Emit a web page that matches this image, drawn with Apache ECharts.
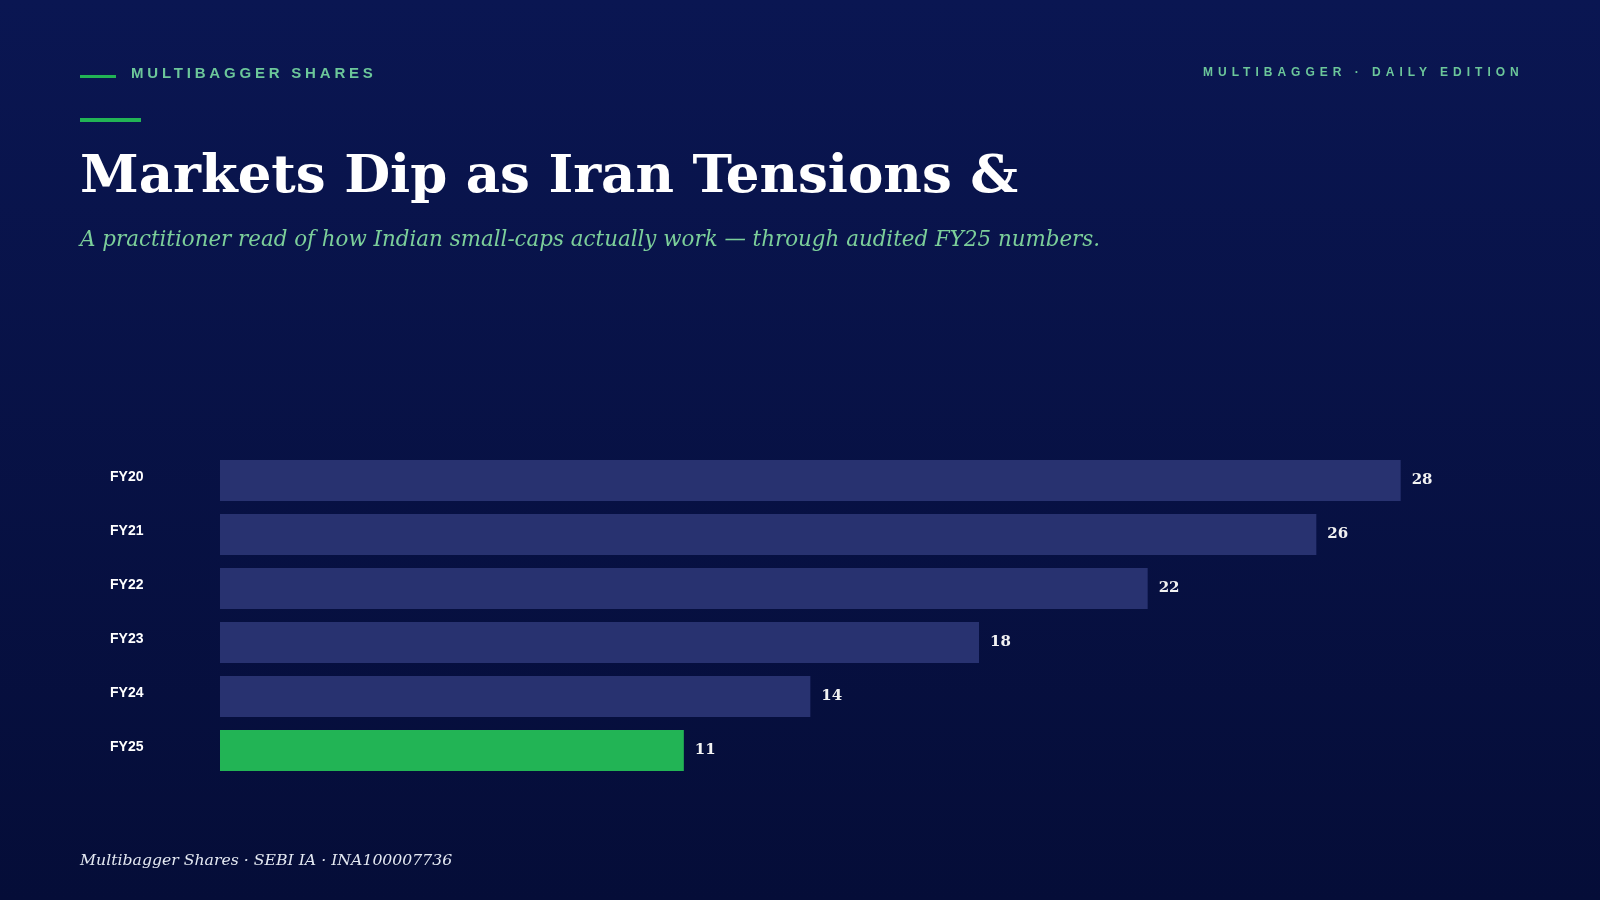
<!DOCTYPE html>
<html>
<head>
<meta charset="utf-8">
<script src="https://cdn.jsdelivr.net/npm/echarts@6/dist/echarts.min.js"></script>
<style>
  html, body { margin: 0; padding: 0; width: 1600px; height: 900px; overflow: hidden; background: #08134a; }
  #chart { position: absolute; left: 0; top: 0; width: 1600px; height: 900px; }
  .kicker { position: absolute; font-family: "Liberation Sans", Arial, sans-serif; font-weight: bold; color: #6cc79a; white-space: nowrap; line-height: 1; }
  #kick1 { left: 131px; top: 65px; font-size: 15px; letter-spacing: 3.8px; }
  #kick2 { left: 1203px; top: 66px; font-size: 12px; letter-spacing: 5px; }
</style>
</head>
<body>
<div id="chart"></div>
<div class="kicker" id="kick1">MULTIBAGGER SHARES</div>
<div class="kicker" id="kick2">MULTIBAGGER · DAILY EDITION</div>
<script>
const categories = ['FY20', 'FY21', 'FY22', 'FY23', 'FY24', 'FY25'];
const values = [28, 26, 22, 18, 14, 11];
const titleText = 'Markets Dip as Iran Tensions &';
const subtitleText = 'A practitioner read of how Indian small-caps actually work — through audited FY25 numbers.';
const footerText = 'Multibagger Shares · SEBI IA · INA100007736';

const chart = echarts.init(document.getElementById('chart'), null, { renderer: 'canvas', width: 1600, height: 900 });
const lastIdx = values.length - 1;

chart.setOption({
  backgroundColor: {
    type: 'linear', x: 0, y: 0, x2: 0, y2: 1,
    colorStops: [{ offset: 0, color: '#0a1652' }, { offset: 1, color: '#050d38' }]
  },
  animation: false,
  graphic: [
    { type: 'rect', shape: { x: 80, y: 75, width: 36, height: 3 }, style: { fill: '#22b455' } },
    { type: 'rect', shape: { x: 80, y: 118, width: 61, height: 4 }, style: { fill: '#22b455' } },
    { type: 'text', x: 80, y: 178, style: { text: titleText, font: 'bold 53px "DejaVu Serif", Georgia, serif', fill: '#ffffff', verticalAlign: 'middle' } },
    { type: 'text', x: 80, y: 240, style: { text: subtitleText, font: 'italic 21.4px "DejaVu Serif", Georgia, serif', fill: '#7ccf9a', verticalAlign: 'middle' } },
    { type: 'text', x: 80, y: 861, style: { text: footerText, font: 'italic 15.7px "DejaVu Serif", Georgia, serif', fill: '#e4e9f2', verticalAlign: 'middle' } }
  ],
  grid: { left: 220, right: 115, top: 453.5, height: 324, containLabel: false },
  xAxis: {
    type: 'value', min: 0, max: 30, show: false, splitLine: { show: false }
  },
  yAxis: {
    type: 'category', data: categories, inverse: true,
    axisLine: { show: false }, axisTick: { show: false }, splitLine: { show: false },
    axisLabel: {
      align: 'left', margin: 110,
      formatter: '{a|{value}}',
      rich: {
        a: {
          color: '#ffffff', fontFamily: '"Liberation Sans", Arial, sans-serif',
          fontWeight: 'bold', fontSize: 14, padding: [0, 0, 7, 0]
        }
      }
    }
  },
  series: [{
    type: 'bar', data: values, barWidth: 41,
    itemStyle: { color: p => p.dataIndex === lastIdx ? '#22b455' : '#283270' },
    label: {
      show: true, position: 'right', distance: 11, color: '#f2f2f2',
      fontFamily: '"DejaVu Serif", Georgia, serif', fontWeight: 'bold', fontSize: 15
    }
  }]
});
</script>
</body>
</html>
